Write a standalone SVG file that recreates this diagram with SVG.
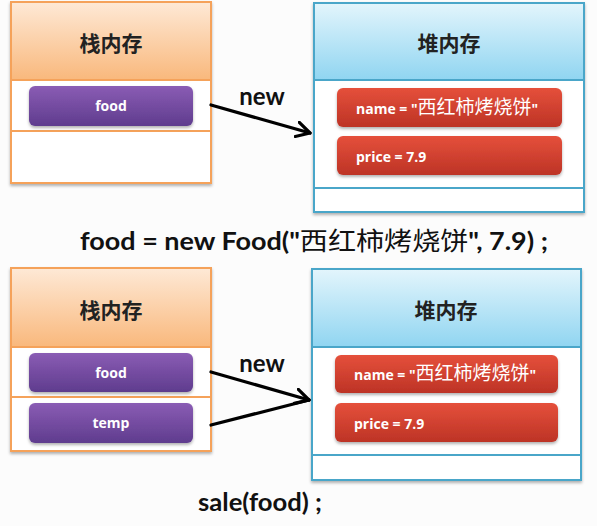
<svg xmlns="http://www.w3.org/2000/svg" width="597" height="526" viewBox="0 0 597 526">
<defs>
<linearGradient id="gOr" x1="0" y1="0" x2="0" y2="1"><stop offset="0" stop-color="#fee9d6"/><stop offset="1" stop-color="#f9b87c"/></linearGradient>
<linearGradient id="gBl" x1="0" y1="0" x2="0" y2="1"><stop offset="0" stop-color="#e3f5fc"/><stop offset="1" stop-color="#90d5f1"/></linearGradient>
<linearGradient id="gPu" x1="0" y1="0" x2="0" y2="1"><stop offset="0" stop-color="#8a5cb4"/><stop offset="1" stop-color="#5f3c8e"/></linearGradient>
<linearGradient id="gRd" x1="0" y1="0" x2="0" y2="1"><stop offset="0" stop-color="#e5503b"/><stop offset="1" stop-color="#bd3326"/></linearGradient>
<marker id="arr" viewBox="0 0 12 12" refX="10" refY="6" markerWidth="5.5" markerHeight="5.5" orient="auto" markerUnits="strokeWidth">
<path d="M1,1 L10,6 L1,11" fill="none" stroke="#000" stroke-width="2.2" stroke-linecap="round" stroke-linejoin="round"/>
</marker>
<filter id="sh" x="-10%" y="-20%" width="120%" height="150%"><feDropShadow dx="0" dy="2" stdDeviation="1.5" flood-color="#000" flood-opacity="0.3"/></filter>
</defs>
<style>
.stk{fill:#fff;stroke:#f5a25a;stroke-width:2}
.hp{fill:#fff;stroke:#4aa6c9;stroke-width:2}
.hdr{font-family:"Noto Sans CJK SC",sans-serif;font-weight:bold;font-size:21px;fill:#222;text-anchor:middle}
.pl{font-family:"Open Sans","Liberation Sans",sans-serif;font-weight:bold;font-size:14px;fill:#fff}
.lbl{font-family:Lato,"Liberation Sans",sans-serif;font-weight:bold;font-size:24px;fill:#111}
.cn{font-family:"Noto Sans CJK SC",sans-serif;font-weight:normal;font-size:25px}
.cnp{font-family:"Noto Sans CJK SC",sans-serif;font-weight:normal;font-size:19px}
.ln{fill:none;stroke:#000;stroke-width:3.2;stroke-linecap:round}
</style>
<rect x="0" y="0" width="597" height="526" fill="#fcfcfc"/>

<!-- Top section -->
<g id="stack1">
<rect x="11" y="2" width="200" height="181" class="stk" filter="url(#sh)"/>
<rect x="11" y="2" width="200" height="78" fill="url(#gOr)" stroke="#f5a25a" stroke-width="2"/>
<line x1="11" y1="131" x2="211" y2="131" stroke="#f5a25a" stroke-width="2"/>
<text x="111" y="51" class="hdr">栈内存</text>
</g>
<g id="food1">
<rect x="29" y="86" width="164" height="40" rx="6" fill="url(#gPu)" filter="url(#sh)"/>
<text x="111" y="111" class="pl" text-anchor="middle">food</text>
</g>
<g id="heap1">
<rect x="314" y="3" width="270" height="209" class="hp" filter="url(#sh)"/>
<rect x="314" y="3" width="270" height="77" fill="url(#gBl)" stroke="#4aa6c9" stroke-width="2"/>
<line x1="314" y1="188" x2="584" y2="188" stroke="#4aa6c9" stroke-width="2"/>
<text x="449" y="51" class="hdr">堆内存</text>
</g>
<g id="name1">
<rect x="337" y="88" width="225" height="39" rx="6" fill="url(#gRd)" filter="url(#sh)"/>
<text x="356" y="114" class="pl">name = "<tspan class="cnp">西红柿烤烧饼</tspan>"</text>
</g>
<g id="price1">
<rect x="337" y="136" width="225" height="39" rx="6" fill="url(#gRd)" filter="url(#sh)"/>
<text x="356" y="162" class="pl">price = 7.9</text>
</g>
<text x="80" y="250" class="lbl" textLength="468" lengthAdjust="spacingAndGlyphs">food = new Food("<tspan class="cn">西红柿烤烧饼</tspan>", 7.9) ;</text>

<!-- Bottom section -->
<g id="stack2">
<rect x="11" y="268" width="200" height="183" class="stk" filter="url(#sh)"/>
<rect x="11" y="268" width="200" height="79" fill="url(#gOr)" stroke="#f5a25a" stroke-width="2"/>
<line x1="11" y1="397" x2="211" y2="397" stroke="#f5a25a" stroke-width="2"/>
<text x="111" y="318" class="hdr">栈内存</text>
</g>
<g id="food2">
<rect x="29" y="353" width="164" height="39" rx="6" fill="url(#gPu)" filter="url(#sh)"/>
<text x="111" y="378" class="pl" text-anchor="middle">food</text>
</g>
<g id="temp2">
<rect x="29" y="403" width="164" height="40" rx="6" fill="url(#gPu)" filter="url(#sh)"/>
<text x="111" y="428" class="pl" text-anchor="middle">temp</text>
</g>
<g id="heap2">
<rect x="312" y="269" width="269" height="211" class="hp" filter="url(#sh)"/>
<rect x="312" y="269" width="269" height="78" fill="url(#gBl)" stroke="#4aa6c9" stroke-width="2"/>
<line x1="312" y1="455" x2="581" y2="455" stroke="#4aa6c9" stroke-width="2"/>
<text x="446" y="318" class="hdr">堆内存</text>
</g>
<g id="name2">
<rect x="335" y="355" width="223" height="38" rx="6" fill="url(#gRd)" filter="url(#sh)"/>
<text x="354" y="380" class="pl">name = "<tspan class="cnp">西红柿烤烧饼</tspan>"</text>
</g>
<g id="price2">
<rect x="335" y="403" width="223" height="39" rx="6" fill="url(#gRd)" filter="url(#sh)"/>
<text x="354" y="429" class="pl">price = 7.9</text>
</g>
<text x="198" y="511" class="lbl" textLength="124" lengthAdjust="spacingAndGlyphs">sale(food) ;</text>

<g id="connectors">
<line x1="211" y1="105" x2="310" y2="133" class="ln" marker-end="url(#arr)"/>
<text x="262" y="105" class="lbl" text-anchor="middle">new</text>
<line x1="211" y1="372" x2="309" y2="400" class="ln" marker-end="url(#arr)"/>
<line x1="211" y1="425" x2="309" y2="400" class="ln"/>
<text x="262" y="372" class="lbl" text-anchor="middle">new</text>
</g>
</svg>
